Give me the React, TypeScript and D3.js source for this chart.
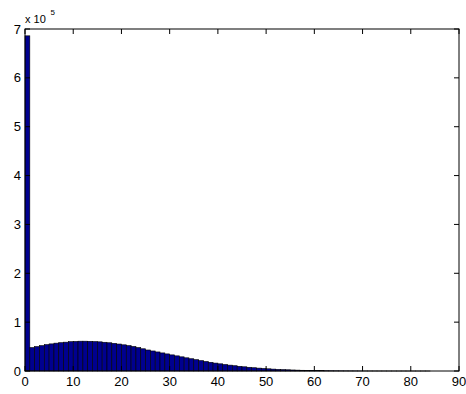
import React from "react";
import * as d3 from "d3";

const binStarts: number[] = Array.from({ length: 84 }, (_, i) => i);
const counts: number[] = [
  686000,
  48000, 50000, 52000, 54000, 55500, 57000, 58000, 59000, 60000, 60500,
  61000, 61000, 60800, 60300, 59700, 58800, 57800, 56600, 55200, 53600,
  52000, 50200, 48000, 45500, 43000, 41000, 39000, 37000, 35000, 33000,
  31000, 29000, 27000, 25100, 23200, 21300, 19500, 17800, 16200, 14700,
  13300, 12000, 10800, 9600, 8600, 7600, 6700, 5900, 5200, 4500,
  3900, 3400, 2900, 2500, 2100, 1800, 1500, 1300, 1100, 900,
  750, 600, 500, 400, 330, 270, 220, 180, 140, 110,
  90, 70, 50, 40, 30, 25, 20, 15, 10, 8,
  6, 4, 3,
];
const xTicks: number[] = [0, 10, 20, 30, 40, 50, 60, 70, 80, 90];
const yTicks: number[] = [0, 1, 2, 3, 4, 5, 6, 7];
const yExponent = "5";

export default function App() {
  const W = 466, H = 394;
  const left = 25, right = 459, top = 29, bottom = 371;
  const x = d3.scaleLinear().domain([0, 90]).range([left, right]);
  const y = d3.scaleLinear().domain([0, 7e5]).range([bottom, top]);
  const font = "Liberation Sans, Arial, Helvetica, sans-serif";
  const tl = 5;
  return (
    <div style={{ position: "fixed", left: 0, top: 0, width: W, height: H, background: "#fff" }}>
      <svg width={W} height={H} style={{ display: "block" }}>
        <rect x={0} y={0} width={W} height={H} fill="#fff" />
        {binStarts.map((b, i) => (
          <rect
            key={i}
            x={x(b)}
            y={y(counts[i])}
            width={x(b + 1) - x(b)}
            height={bottom - y(counts[i])}
            fill="#00008f"
            stroke="#000"
            strokeWidth={0.6}
          />
        ))}
        <rect x={left} y={top} width={right - left} height={bottom - top} fill="none" stroke="#000" strokeWidth={1} />
        {xTicks.map((t) => (
          <g key={"x" + t}>
            <line x1={x(t)} x2={x(t)} y1={bottom} y2={bottom - tl} stroke="#000" />
            <line x1={x(t)} x2={x(t)} y1={top} y2={top + tl} stroke="#000" />
            <text x={x(t)} y={386} textAnchor="middle" fontFamily={font} fontSize={13} fill="#000">
              {t}
            </text>
          </g>
        ))}
        {yTicks.map((t) => (
          <g key={"y" + t}>
            <line x1={left} x2={left + tl} y1={y(t * 1e5)} y2={y(t * 1e5)} stroke="#000" />
            <line x1={right} x2={right - tl} y1={y(t * 1e5)} y2={y(t * 1e5)} stroke="#000" />
            <text x={21} y={y(t * 1e5) + 4.6} textAnchor="end" fontFamily={font} fontSize={13} fill="#000">
              {t}
            </text>
          </g>
        ))}
        <text x={25} y={23} fontFamily={font} fontSize={11} fill="#000">
          x 10
        </text>
        <text x={50.5} y={15} fontFamily={font} fontSize={8} fill="#000">
          {yExponent}
        </text>
      </svg>
    </div>
  );
}
